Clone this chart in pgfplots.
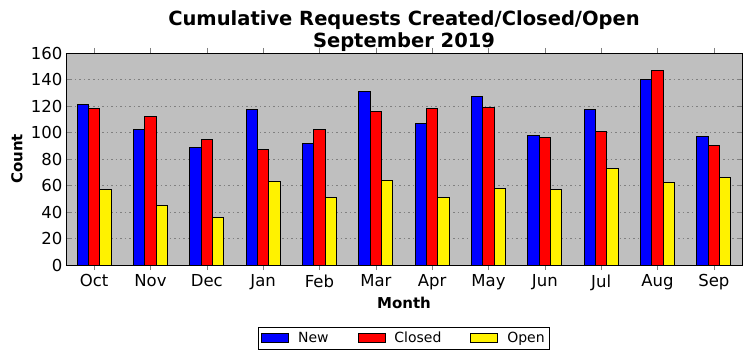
\documentclass[border=0pt]{standalone}
\usepackage{fontspec}
\setmainfont{DejaVu Sans}
\usepackage{pgfplots}
\pgfplotsset{compat=1.18}
\definecolor{bgsilver}{HTML}{BFBFBF}
\pgfplotsset{boxlegend/.style={legend image code/.code={\draw[##1, line width=0.8pt] (0pt,-4.5pt) rectangle (27pt,4.5pt);}}}
\begin{document}
\begin{tikzpicture}
\path[use as bounding box] (-66pt,-96pt) rectangle (686pt,265pt);
\begin{axis}[
  at={(0pt,0pt)}, anchor=south west,
  scale only axis, width=676pt, height=212pt,
  xmin=-0.5, xmax=11.5, ymin=0, ymax=160,
  xtick={0,1,2,3,4,5,6,7,8,9,10,11},
  xticklabels={Oct,Nov,Dec,Jan,Feb,Mar,Apr,May,Jun,Jul,Aug,Sep},
  ytick={0,20,...,160},
  /pgf/number format/assume math mode=true,
  tick label style={font=\fontsize{16.5}{18}\selectfont},
  xticklabel style={yshift=-1pt},
  tick align=inside, major tick length=5pt,
  xtick pos=both, ytick pos=both,
  axis line style={black, line width=0.9pt},
  axis background/.style={fill=bgsilver},
  ymajorgrids, grid style={gray, line width=0.6pt, dash pattern=on 1.5pt off 3pt},
  title={Cumulative Requests Created/Closed/Open\\September 2019},
  title style={align=center, font=\bfseries\fontsize{19.5}{22}\selectfont, at={(0.5,1)}, anchor=south, yshift=-8pt},
  xlabel={Month}, ylabel={Count},
  every axis x label/.style={at={(axis description cs:0.5,0)}, anchor=center, yshift=-38pt, font=\bfseries\fontsize{15}{17}\selectfont},
  every axis y label/.style={at={(axis description cs:-0.0725,0.5)}, rotate=90, anchor=center, font=\bfseries\fontsize{15}{17}\selectfont},
  legend columns=3,
  legend style={at={(axis description cs:0.5,0)}, anchor=center, yshift=-73pt, draw=black, line width=0.8pt, fill=white, font=\fontsize{14}{16}\selectfont, inner xsep=3pt, inner ysep=3pt, /tikz/every odd column/.append style={column sep=7pt}, /tikz/every even column/.append style={column sep=27pt}},
  ybar, bar width=0.2,
]
\addplot[fill=blue, draw=black, line width=1pt, bar shift=-0.2, boxlegend] coordinates {(0,121) (1,102) (2,89) (3,117) (4,92) (5,131) (6,107) (7,127) (8,98) (9,117) (10,140) (11,97)};
\addlegendentry{New}
\addplot[fill=red, draw=black, line width=1pt, bar shift=0, boxlegend] coordinates {(0,118) (1,112) (2,95) (3,87) (4,102) (5,116) (6,118) (7,119) (8,96) (9,101) (10,147) (11,90)};
\addlegendentry{Closed}
\addplot[fill=yellow, draw=black, line width=1pt, bar shift=0.2, boxlegend] coordinates {(0,57) (1,45) (2,36) (3,63) (4,51) (5,64) (6,51) (7,58) (8,57) (9,73) (10,62) (11,66)};
\addlegendentry{Open}
\end{axis}
\end{tikzpicture}
\end{document}
